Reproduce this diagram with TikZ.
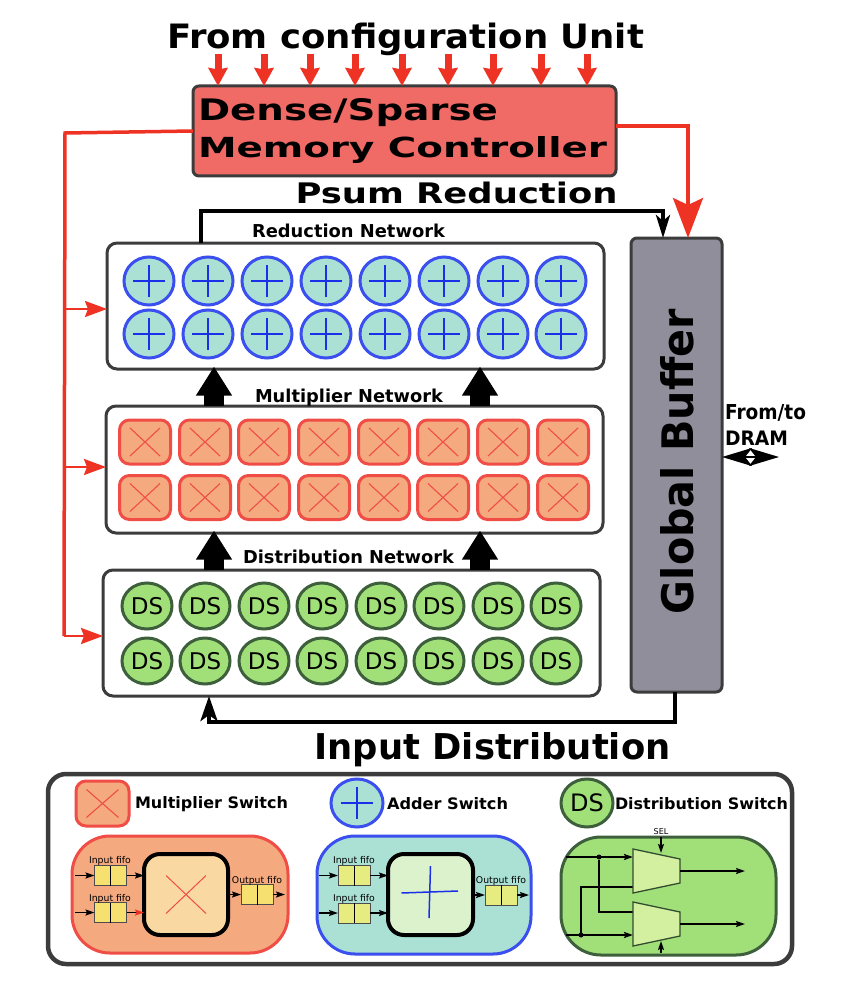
\documentclass[tikz,border=0pt]{standalone}
\usepackage{fontspec}
\usepackage{graphicx}
\setmainfont{DejaVu Sans}
\usetikzlibrary{arrows.meta,shapes.geometric}
\definecolor{redarrow}{HTML}{EE3324}
\definecolor{ctrlfill}{HTML}{F06A66}
\definecolor{edgedark}{HTML}{3C3C3C}
\definecolor{gbfill}{HTML}{908E9A}
\definecolor{addfill}{HTML}{ABE1D4}
\definecolor{addedge}{HTML}{3B4FEF}
\definecolor{pluscol}{HTML}{1A30E8}
\definecolor{mulfill}{HTML}{F4A97F}
\definecolor{muledge}{HTML}{EF4D45}
\definecolor{dsfill}{HTML}{A1E079}
\definecolor{dsedge}{HTML}{3E5F3B}
\definecolor{muxfill}{HTML}{D3F0A0}
\definecolor{fifoA}{HTML}{F5E070}
\definecolor{fifoB}{HTML}{E6EC80}
\definecolor{innerA}{HTML}{F9D8A2}
\definecolor{innerB}{HTML}{DCF2CC}
\newcommand\BT[3]{\resizebox{#1pt}{#2pt}{\fontsize{20}{20}\selectfont\bfseries #3}}
\tikzset{
  lbl/.style={inner sep=0pt,outer sep=0pt,anchor=base west},
  panel/.style={draw=edgedark,line width=3pt,fill=white,rounded corners=10pt,inner sep=0pt,outer sep=0pt},
  adderc/.style={ellipse,draw=addedge,fill=addfill,line width=3pt,inner sep=0pt,outer sep=0pt,minimum width=50pt,minimum height=48pt},
  mulbox/.style={draw=muledge,fill=mulfill,line width=3pt,rounded corners=10pt,inner sep=0pt,outer sep=0pt,minimum width=51pt,minimum height=44pt},
  dsc/.style={ellipse,draw=dsedge,fill=dsfill,line width=3pt,inner sep=0pt,outer sep=0pt,minimum width=50pt,minimum height=46pt,font=\fontsize{23}{23}\selectfont},
  mcross/.style={draw=muledge,line width=1.1pt},
  pcross/.style={draw=pluscol,line width=1.1pt},
  cfgarrow/.style={draw=redarrow,line width=7pt,-{Stealth[length=18pt,width=19pt,inset=1.5pt]},fill=redarrow},
  busline/.style={draw=redarrow,line width=3.5pt},
  busarrow/.style={draw=redarrow,line width=2.5pt,-{Stealth[length=22pt,width=16pt,inset=3pt]}},
  fatarrow/.style={draw=black,line width=20pt,-{Triangle[length=29pt,width=34pt]}},
  thickflow/.style={draw=black,line width=4pt,line join=miter},
  detailbox/.style={line width=3pt,rounded corners=38pt,inner sep=0pt,outer sep=0pt,minimum width=215pt,minimum height=117pt},
  innerbox/.style={draw=black,line width=4pt,rounded corners=16pt,inner sep=0pt,outer sep=0pt,minimum width=84pt,minimum height=81pt},
  fifocell/.style={draw=black!70,line width=1pt,inner sep=0pt,outer sep=0pt,minimum width=32pt,minimum height=20pt},
  tiny/.style={inner sep=0pt,outer sep=0pt,anchor=base,font=\fontsize{9.3}{9.3}\selectfont},
  wire/.style={draw=black,line width=1.6pt,-{Stealth[length=9pt,width=6pt,inset=1.5pt]}},
  plainwire/.style={draw=black,line width=1.6pt},
  dot/.style={circle,fill=black,inner sep=0pt,outer sep=0pt,minimum size=5pt},
  muxshape/.style={draw=dsedge!80!black,fill=muxfill,line width=1.3pt,line join=miter},
}
\newcommand\fifo[4]{%
  \node[fifocell,fill=#4] (#1) at (#2,#3) {};
  \draw[draw=black,line width=1pt] (#1.north) -- (#1.south);
}
\begin{document}
\begin{tikzpicture}[x=1pt,y=-1pt]
\useasboundingbox (0,0) rectangle (842,1008);
\fill[white] (0,0) rectangle (842,1008);

% title
\node[lbl] (title) at (167,49) {\BT{477}{25.5}{From configuration Unit}};

% controller
\node[draw=edgedark,line width=3pt,fill=ctrlfill,rounded corners=6pt,inner sep=0pt,outer sep=0pt,minimum width=423pt,minimum height=90pt] (ctrl) at (404.5,131) {};
\node[lbl] (ctrlA) at (198,121) {\BT{300}{22}{Dense/Sparse}};
\node[lbl] (ctrlB) at (198,158) {\BT{409}{21}{Memory Controller}};

% config arrows
\foreach \x [count=\i] in {218,264,310,355,402,448,493,541,587}{
  \coordinate (cfg\i) at (\x,54);
  \draw[cfgarrow] (cfg\i) -- (cfg\i |- ctrl.north);
}

% panels
\node[panel,minimum width=497pt,minimum height=126pt] (redbox) at (355.5,306) {};
\node[panel,minimum width=497pt,minimum height=127pt] (mulpanel) at (354.5,469.5) {};
\node[panel,minimum width=497pt,minimum height=126pt] (dispanel) at (351.5,633) {};
\node[lbl] (redlbl) at (252,237) {\BT{193}{13.5}{Reduction Network}};
\node[lbl] (mullbl) at (255,402) {\BT{188}{13.5}{Multiplier Network}};
\node[lbl] (dislbl) at (243,563.5) {\BT{211}{13.5}{Distribution Network}};

% global buffer
\node[draw=edgedark,line width=3pt,fill=gbfill,rounded corners=6pt,inner sep=0pt,outer sep=0pt,minimum width=91pt,minimum height=454pt] (gb) at (676.5,465) {};
\node[lbl,rotate=90] (gblbl) at (693,614) {\BT{305}{33}{Global Buffer}};

% adders
\foreach \x [count=\i] in {149,208,267,326,385,444,503,561}{
  \foreach \y [count=\j] in {281,334}{
    \node[adderc] (add\i-\j) at (\x,\y) {};
    \draw[pcross] ([xshift=-16pt]add\i-\j.center) -- ([xshift=16pt]add\i-\j.center);
    \draw[pcross] ([yshift=-16pt]add\i-\j.center) -- ([yshift=16pt]add\i-\j.center);
  }
}
% multipliers
\foreach \x [count=\i] in {145,205,264,324,384,443,503,563}{
  \foreach \y [count=\j] in {442,497.5}{
    \node[mulbox] (mul\i-\j) at (\x,\y) {};
    \draw[mcross] ([shift={(-15pt,-14pt)}]mul\i-\j.center) -- ([shift={(15pt,14pt)}]mul\i-\j.center);
    \draw[mcross] ([shift={(-15pt,14pt)}]mul\i-\j.center) -- ([shift={(15pt,-14pt)}]mul\i-\j.center);
  }
}
% distribution
\foreach \x [count=\i] in {147,205,264,322,381,439,498,556}{
  \foreach \y [count=\j] in {606,661}{
    \node[dsc] (ds\i-\j) at (\x,\y) {DS};
  }
}

% fat arrows
\coordinate (fa) at (214,0);
\coordinate (fb) at (480,0);
\draw[fatarrow] (fa |- mulpanel.north) -- ([yshift=2.5pt]fa |- redbox.south);
\draw[fatarrow] (fb |- mulpanel.north) -- ([yshift=2.5pt]fb |- redbox.south);
\draw[fatarrow] (fa |- dispanel.north) -- ([yshift=2.5pt]fa |- mulpanel.south);
\draw[fatarrow] (fb |- dispanel.north) -- ([yshift=2.5pt]fb |- mulpanel.south);

% red bus
\coordinate (busT) at (65,133);
\coordinate (busE) at (64,636);
\coordinate (busR) at (64,309);
\coordinate (busM) at (64,467);
\draw[busline] (ctrl.west) -- (busT) -- (busE);
\draw[busarrow] (busR) -- (busR -| redbox.west);
\draw[busarrow] (busM) -- (busM -| mulpanel.west);
\draw[busarrow] (busE) -- (busE -| dispanel.west);

% controller to global buffer
\coordinate (cr) at (688,126);
\draw[draw=redarrow,line width=3.5pt,line join=miter,-{Stealth[length=40pt,width=30pt,inset=7pt]}] (cr -| ctrl.east) -- (cr) -- (cr |- gb.north);

% psum reduction
\node[lbl] (psum) at (295.5,204) {\BT{322}{21.5}{Psum Reduction}};
\coordinate (pa) at (201,211);
\coordinate (pb) at (663,211);
\draw[thickflow,-{Stealth[length=23pt,width=14pt,inset=6pt]}] (pa |- redbox.north) -- (pa) -- (pb) -- (pb |- gb.north);

% input distribution
\node[lbl] (inp) at (314.5,759) {\BT{356}{27}{Input Distribution}};
\coordinate (ia) at (675,722);
\coordinate (ib) at (209,722);
\draw[thickflow,-{Stealth[length=25pt,width=17pt,inset=6pt]}] (ia |- gb.south) -- (ia) -- (ib) -- (ib |- dispanel.south);

% DRAM
\node[lbl] (dram1) at (725,419) {\BT{81}{15}{From/to}};
\node[lbl] (dram2) at (725,445) {\BT{63}{14.5}{DRAM}};
\coordinate (dr) at (779,457);
\draw[draw=black,line width=2pt,{Stealth[length=30pt,width=18pt,inset=7pt]}-{Stealth[length=30pt,width=18pt,inset=7pt]}] (gb.east |- dr) -- (dr);

% legend
\node[draw=edgedark,line width=4.5pt,rounded corners=18pt,inner sep=0pt,outer sep=0pt,minimum width=744pt,minimum height=190pt] (legend) at (420,869) {};

% legend: multiplier
\node[mulbox,minimum width=53pt,minimum height=45pt] (lmul) at (102.5,803.5) {};
\draw[mcross] ([shift={(-16pt,-14pt)}]lmul.center) -- ([shift={(16pt,14pt)}]lmul.center);
\draw[mcross] ([shift={(-16pt,14pt)}]lmul.center) -- ([shift={(16pt,-14pt)}]lmul.center);
\node[lbl] (lmult) at (135,808) {\BT{153}{12}{Multiplier Switch}};
\node[detailbox,draw=muledge,fill=mulfill,minimum width=216pt] (dmul) at (180,894.5) {};
\node[innerbox,fill=innerA] (imul) at (186,894.5) {};
\draw[draw=muledge,line width=1pt] ([shift={(-20pt,-19pt)}]imul.center) -- ([shift={(20pt,19pt)}]imul.center);
\draw[draw=muledge,line width=1pt] ([shift={(-20pt,19pt)}]imul.center) -- ([shift={(20pt,-19pt)}]imul.center);
\fifo{mfa}{110.5}{875.5}{fifoA}
\fifo{mfb}{110.5}{912.5}{fifoA}
\fifo{mfc}{257}{894.5}{fifoA}
\node[tiny] (tm1) at (110,863) {Input fifo};
\node[tiny] (tm2) at (110,901) {Input fifo};
\node[tiny] (tm3) at (257,883) {Output fifo};
\coordinate (ma) at (75,875.5);
\coordinate (mb) at (75,912.5);
\coordinate (mc) at (285,894.5);
\draw[wire] (ma) -- (mfa.west);
\draw[wire] (mb) -- (mfb.west);
\draw[wire] (mfa.east) -- (mfa.east -| imul.west);
\draw[plainwire,-{Stealth[length=9pt,width=6pt,inset=1.5pt,color=redarrow]}] (mfb.east) -- (mfb.east -| imul.west);
\draw[wire] (imul.east |- mfc.west) -- (mfc.west);
\draw[wire] (mfc.east) -- (mc);

% legend: adder
\node[adderc,minimum width=52pt] (ladd) at (357,803) {};
\draw[pcross] ([xshift=-16pt]ladd.center) -- ([xshift=16pt]ladd.center);
\draw[pcross] ([yshift=-16pt]ladd.center) -- ([yshift=16pt]ladd.center);
\node[lbl] (laddt) at (387,809) {\BT{121}{12}{Adder Switch}};
\node[detailbox,draw=addedge,fill=addfill,minimum width=214pt,minimum height=118pt] (dadd) at (424,895) {};
\node[innerbox,fill=innerB,minimum width=85pt] (iadd) at (430.5,894.5) {};
\draw[draw=pluscol,line width=1.5pt] (401.5,893) -- (458,891);
\draw[draw=pluscol,line width=1.5pt] (430.5,866) -- (429,918);
\fifo{afa}{354}{875.5}{fifoB}
\fifo{afb}{354}{913}{fifoB}
\fifo{afc}{501}{895}{fifoB}
\node[tiny] (ta1) at (354,863) {Input fifo};
\node[tiny] (ta2) at (354,901) {Input fifo};
\node[tiny] (ta3) at (501,883) {Output fifo};
\coordinate (aa) at (319,875.5);
\coordinate (ab) at (319,913);
\coordinate (ac) at (529,895);
\draw[wire] (aa) -- (afa.west);
\draw[wire] (ab) -- (afb.west);
\draw[wire] (afa.east) -- (afa.east -| iadd.west);
\draw[wire] (afb.east) -- (afb.east -| iadd.west);
\draw[wire] (iadd.east |- afc.west) -- (afc.west);
\draw[wire] (afc.east) -- (ac);

% legend: distribution
\node[dsc,minimum width=52pt,minimum height=48pt,font=\fontsize{24}{24}\selectfont] (lds) at (587,803) {DS};
\node[lbl] (ldst) at (615,809) {\BT{173}{12}{Distribution Switch}};
\node[detailbox,draw=dsedge,fill=dsfill,minimum width=215pt,minimum height=118pt,rounded corners=40pt] (ddis) at (668.5,896) {};
\coordinate (wa) at (566,857);
\coordinate (wb) at (566,935);
\coordinate (mxa) at (633,857);
\coordinate (mxb) at (633,935);
\node[dot] (da) at (599,857) {};
\node[dot] (db) at (581,935) {};
\coordinate (va) at (633,912);
\coordinate (vb) at (633,887);
\draw[draw=black,line width=2pt] (da) -- (da |- va) -- (va);
\draw[draw=black,line width=2pt] (db) -- (db |- vb) -- (vb);
\draw[wire,line width=2pt] (wa) -- (mxa);
\draw[wire,line width=2pt] (wb) -- (mxb);
\draw[muxshape] (633,849) coordinate (m1a) -- (680,859) -- (680,883) -- (633,893) -- cycle;
\draw[muxshape] (633,902) coordinate (m2a) -- (680,912) -- (680,936) -- (633,946) -- cycle;
\coordinate (oa) at (745,871);
\coordinate (ob) at (745,924);
\coordinate (ma1) at (680,871);
\coordinate (mb1) at (680,924);
\draw[wire] (ma1) -- (oa);
\draw[wire] (mb1) -- (ob);
\node[inner sep=0pt,outer sep=0pt,anchor=base,font=\fontsize{8}{8}\selectfont] (sel) at (661,834) {SEL};
\coordinate (sa) at (661,837);
\coordinate (sb) at (661,853);
\coordinate (sc) at (661,953);
\coordinate (sd) at (661,941);
\draw[wire] (sa) -- (sb);
\draw[wire] (sc) -- (sd);
\end{tikzpicture}
\end{document}
